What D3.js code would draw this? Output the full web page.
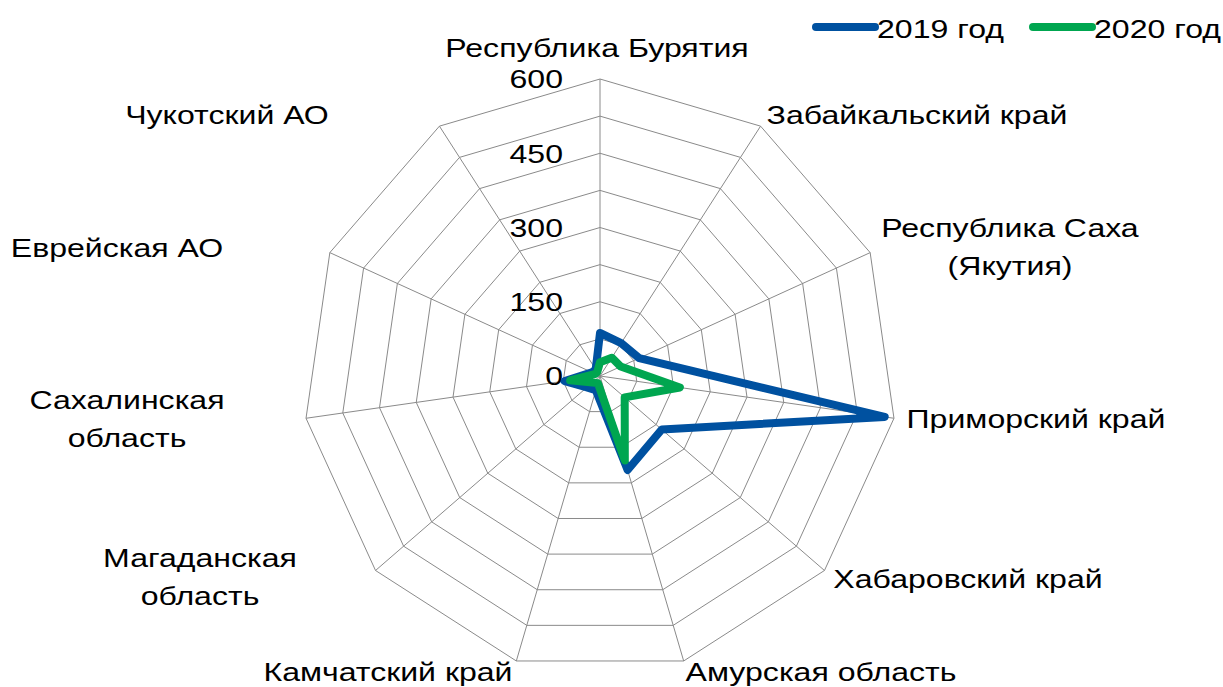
<!DOCTYPE html>
<html>
<head>
<meta charset="utf-8">
<script src="https://cdn.jsdelivr.net/npm/d3@7"></script>
<style>
  body { margin: 0; background: #fff; }
  text { font-family: Arial, "Liberation Sans", sans-serif; fill: #000; }
</style>
</head>
<body>
<svg id="chart" width="1223" height="687"></svg>
<script>
// Regions (clockwise from the top axis)
const regions = [
  "Республика Бурятия", "Забайкальский край", "Республика Саха (Якутия)",
  "Приморский край", "Хабаровский край", "Амурская область", "Камчатский край",
  "Магаданская область", "Сахалинская область", "Еврейская АО", "Чукотский АО"
];
// Label text split into lines
const regionLines = [
  ["Республика Бурятия"], ["Забайкальский край"], ["Республика Саха", "(Якутия)"],
  ["Приморский край"], ["Хабаровский край"], ["Амурская область"], ["Камчатский край"],
  ["Магаданская", "область"], ["Сахалинская", "область"], ["Еврейская АО"], ["Чукотский АО"]
];
const values2019 = [87, 79, 87, 581, 165, 198, 30, 35, 72, 18, 16];
const values2020 = [28, 44, 46, 163, 66, 178, 15, 20, 61, 10, 10];
const seriesNames = ["2019 год", "2020 год"];
const tickValues = [0, 150, 300, 450, 600];
const ringValues = [75, 150, 225, 300, 375, 450, 525, 600];

// Layout
const cx = 600, cy = 376, R = 297;
const fontSize = 26.5, lineGap = 38, textWiden = 1.21;
const colors = ["#0051A0", "#00A650"];
// Label anchor (text centre, first baseline) relative to the chart centre
const labelOffset = [
  [-3, -319], [317, -252], [410, -139], [436, 52], [368, 212], [221, 305],
  [-212, 305], [-400, 191], [-473, 33], [-483, -119], [-373, -252]
];

const svg = d3.select("#chart");
const g = svg.append("g").attr("transform", `translate(${cx},${cy})`);

const n = regions.length;
const angle = d3.scaleLinear().domain([0, n]).range([0, 2 * Math.PI]);
const r = d3.scaleLinear().domain([0, 600]).range([0, R]);
const pt = (i, v) => [Math.sin(angle(i)) * r(v), -Math.cos(angle(i)) * r(v)];

// Grid rings
g.selectAll("path.ring").data(ringValues).join("path")
  .attr("class", "ring")
  .attr("d", v => d3.line()(d3.range(n).map(i => pt(i, v))) + "Z")
  .attr("fill", "none").attr("stroke", "#8a8a8a").attr("stroke-width", 1);

// Spokes
g.selectAll("line.spoke").data(d3.range(n)).join("line")
  .attr("class", "spoke")
  .attr("x1", 0).attr("y1", 0)
  .attr("x2", i => pt(i, 600)[0]).attr("y2", i => pt(i, 600)[1])
  .attr("stroke", "#8a8a8a").attr("stroke-width", 1);

// Tick labels along the top axis
g.selectAll("text.tick").data(tickValues).join("text")
  .attr("class", "tick")
  .attr("transform", v => `translate(-37,${-r(v)}) scale(${textWiden},1)`)
  .attr("dy", "0.35em")
  .attr("text-anchor", "end")
  .style("font-size", fontSize + "px")
  .text(v => v);

// Series
const line = d3.line().curve(d3.curveLinearClosed);
[values2019, values2020].forEach((vals, s) => {
  g.append("path")
    .attr("d", line(vals.map((v, i) => pt(i, v))))
    .attr("fill", "none")
    .attr("stroke", colors[s])
    .attr("stroke-width", 8)
    .attr("stroke-linejoin", "round");
});

// Category labels
const lab = g.selectAll("text.cat").data(regionLines).join("text")
  .attr("class", "cat")
  .attr("text-anchor", "middle")
  .style("font-size", fontSize + "px")
  .attr("transform", (d, i) => `translate(${labelOffset[i][0]},${labelOffset[i][1]}) scale(${textWiden},1)`);
lab.selectAll("tspan").data(d => d).join("tspan")
  .attr("x", 0).attr("y", (d, j) => j * lineGap)
  .text(d => d);

// Legend
const legendX = [816, 1033];
const legend = svg.selectAll("g.leg").data(seriesNames).join("g")
  .attr("class", "leg")
  .attr("transform", (d, i) => `translate(${legendX[i]},27)`);
legend.append("line")
  .attr("x1", 0).attr("x2", 59).attr("y1", 0).attr("y2", 0)
  .attr("stroke", (d, i) => colors[i]).attr("stroke-width", 8)
  .attr("stroke-linecap", "round");
legend.append("text")
  .attr("transform", `translate(61,11) scale(${textWiden},1)`)
  .style("font-size", fontSize + "px")
  .text(d => d);
</script>
</body>
</html>
